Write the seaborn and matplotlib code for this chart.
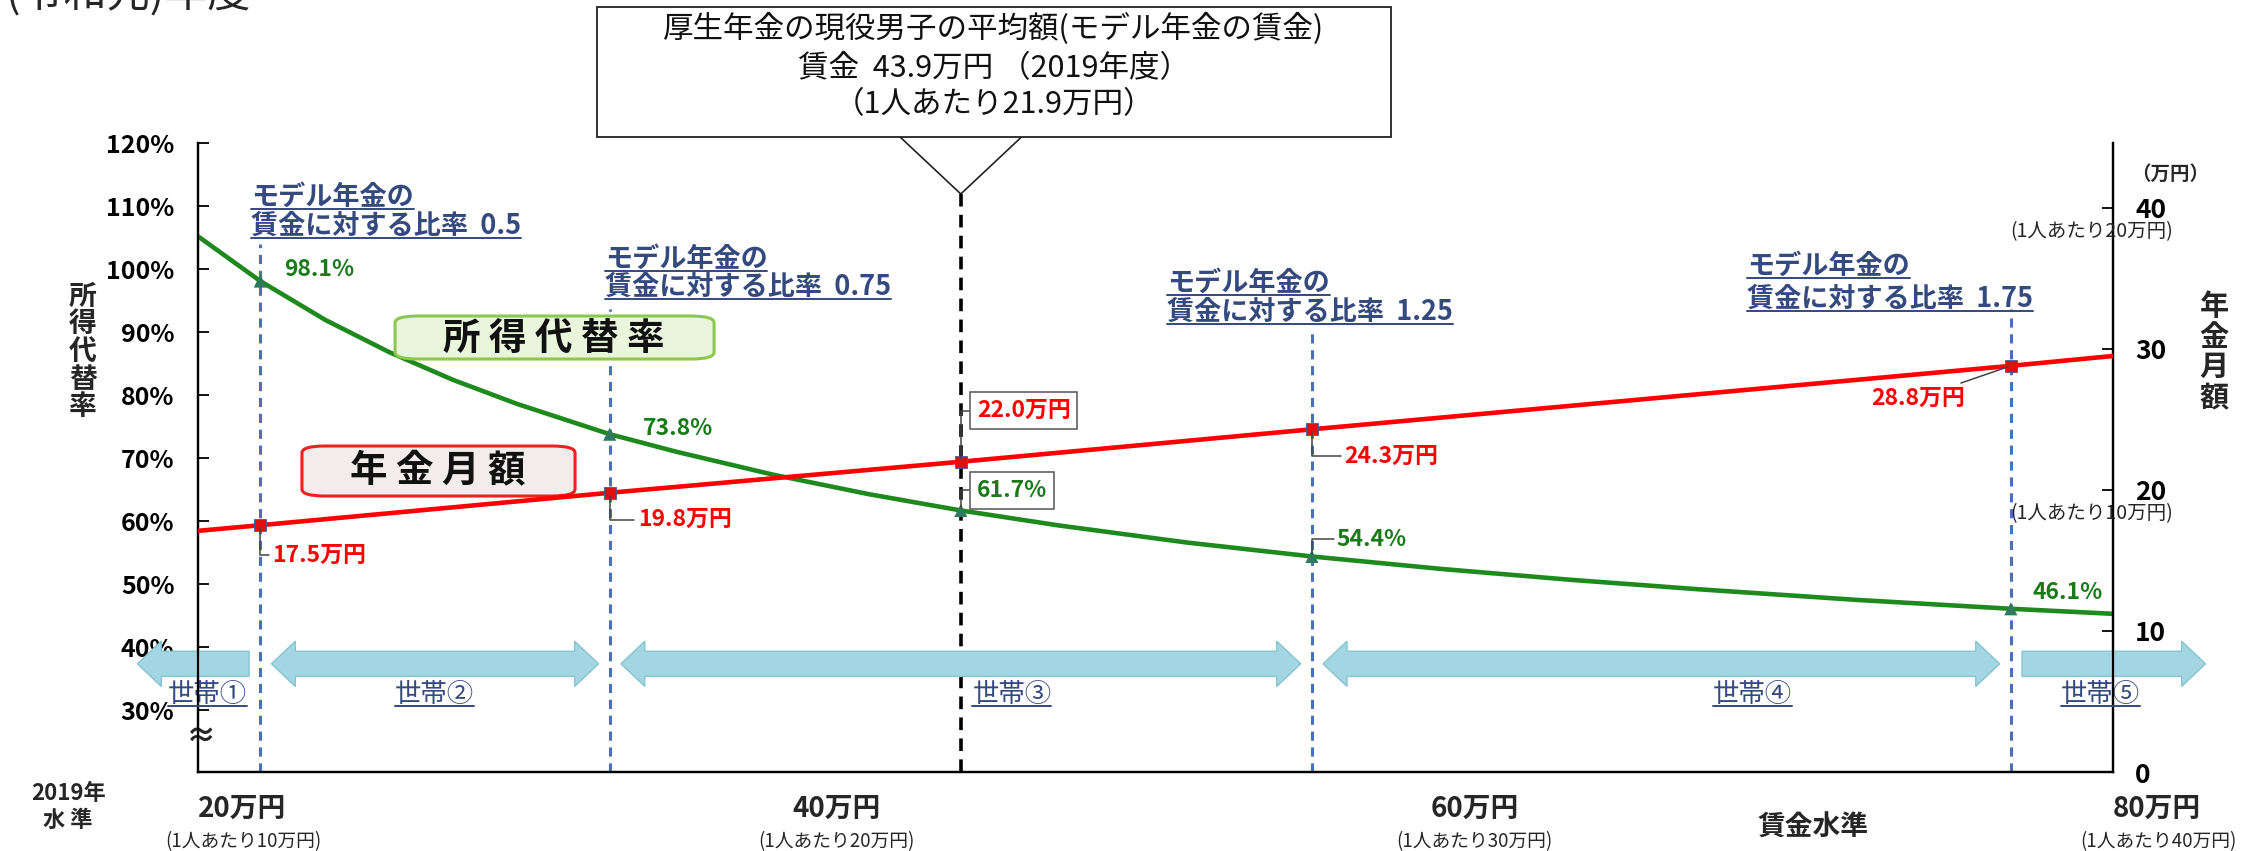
import numpy as np
import pandas as pd
import matplotlib
matplotlib.use("Agg")
import matplotlib.pyplot as plt
import matplotlib.transforms as mtransforms
from matplotlib.patches import Polygon, Rectangle, FancyBboxPatch
from matplotlib.lines import Line2D
import seaborn as sns

# ---------------- data ----------------
curve_wage = [20, 21.95, 24, 26, 28, 30, 32.9, 35, 38, 41, 43.9, 47, 51, 54.9, 59, 63, 67, 72, 76.8, 80]
curve_rate = [105.2, 98.1, 91.9, 86.8, 82.4, 78.6, 73.8, 71.0, 67.4, 64.3, 61.7, 59.3, 56.6, 54.4,
              52.4, 50.7, 49.2, 47.5, 46.1, 45.3]
pension_wage = [20, 21.95, 32.9, 43.9, 54.9, 76.8, 80]
pension_amount = [17.1, 17.5, 19.8, 22.0, 24.3, 28.8, 29.5]

model_ratio = ["0.5", "0.75", "1.0", "1.25", "1.75"]
point_wage = [21.95, 32.9, 43.9, 54.9, 76.8]
point_rate = [98.1, 73.8, 61.7, 54.4, 46.1]
point_pension = [17.5, 19.8, 22.0, 24.3, 28.8]

x_tick_vals = [20, 40, 60, 80]
x_tick_main = ["20万円", "40万円", "60万円", "80万円"]
x_tick_sub = ["(1人あたり10万円)", "(1人あたり20万円)", "(1人あたり30万円)", "(1人あたり40万円)"]
left_ticks = [30, 40, 50, 60, 70, 80, 90, 100, 110, 120]
right_ticks = [0, 10, 20, 30, 40]
households = ["世帯①", "世帯②", "世帯③", "世帯④", "世帯⑤"]
household_label_wage = [20.3, 27.4, 45.5, 68.7, 79.6]
household_outer = [18.1, 82.9]

box_lines = ["厚生年金の現役男子の平均額(モデル年金の賃金)",
             "賃金  43.9万円 （2019年度）",
             "（1人あたり21.9万円）"]

# ---------------- style ----------------
sns.set_style("white")
plt.rcParams['font.family'] = ['Noto Sans CJK JP', 'DejaVu Sans']
plt.rcParams['axes.unicode_minus'] = False

RED = '#ff0000'
GREEN = '#1e8a1e'
BLUE_DASH = '#4a70b8'
NAVY = '#34497e'
ARROW = '#a3d6e2'

W_PX, H_PX = 2254, 851
fig = plt.figure(figsize=(W_PX / 100, H_PX / 100), dpi=100)
ax = fig.add_axes([0.08784, 0.09283, 0.8496, 0.7391])
ax2 = ax.twinx()

ax.set_xlim(20, 80)
ax.set_ylim(20.2, 120)
ax2.set_ylim(0, 44.6)

# lines
rate_df = pd.DataFrame({'wage': curve_wage, 'rate': curve_rate})
pen_df = pd.DataFrame({'wage': pension_wage, 'amount': pension_amount})
sns.lineplot(data=rate_df, x='wage', y='rate', ax=ax, color=GREEN, lw=3.3, zorder=6)
sns.lineplot(data=pen_df, x='wage', y='amount', ax=ax2, color=RED, lw=3.3, zorder=6)

pts_df = pd.DataFrame({'wage': point_wage, 'rate': point_rate, 'pension': point_pension})
sns.scatterplot(data=pts_df, x='wage', y='rate', ax=ax, marker='^', s=90, color='#2f7a5c',
                edgecolor='none', zorder=7)
sns.scatterplot(data=pts_df, x='wage', y='pension', ax=ax2, marker='s', s=70, color='#e01010',
                edgecolor='#3a5fa0', linewidth=0.6, zorder=7)

# vertical dashed lines
dash_top = [0.839, 0.736, 0.919, 0.698, 0.736]
for i, w in enumerate(point_wage):
    if model_ratio[i] == "1.0":
        ax.axvline(w, 0, dash_top[i], color='black', lw=2.6, ls=(0, (3.5, 2.3)), zorder=4)
    else:
        ax.axvline(w, 0, dash_top[i], color=BLUE_DASH, lw=2.2, ls=(0, (3, 2.2)), zorder=4)

# axes cosmetics
for a in (ax, ax2):
    a.spines['top'].set_visible(False)
    for s in ('left', 'right', 'bottom'):
        a.spines[s].set_color('black')
        a.spines[s].set_linewidth(1.6)
ax.set_xlabel('')
ax.set_ylabel('')
ax2.set_ylabel('')
ax.set_xticks([40, 60])
ax.set_xticklabels([])
ax.tick_params(axis='x', direction='in', length=8, width=1.3, colors='black')
ax.set_yticks(left_ticks)
ax.set_yticklabels([f"{v}%" for v in left_ticks], fontsize=18, fontweight='bold')
ax.tick_params(axis='y', direction='in', length=8, width=1.3, pad=17, colors='black')
ax2.set_yticks(right_ticks)
ax2.set_yticklabels([str(v) for v in right_ticks], fontsize=19, fontweight='bold')
ax2.tick_params(axis='y', direction='in', length=8, width=1.3, pad=16, colors='black')
ax.grid(False)
ax2.grid(False)

# household arrows (x in data, y in axes fraction)
blend = mtransforms.blended_transform_factory(ax.transData, ax.transAxes)
bounds = [household_outer[0]] + [point_wage[0], point_wage[1], point_wage[3], point_wage[4]] + [household_outer[1]]
gap = 0.35
yc, hs, hh, hl = 0.172, 0.020, 0.036, 0.75
for k in range(5):
    x0 = bounds[k] + (0 if k == 0 else gap)
    x1 = bounds[k + 1] - (0 if k == 4 else gap)
    left_head = k != 4
    right_head = k != 0
    pts = []
    if left_head:
        pts += [(x0, yc), (x0 + hl, yc + hh), (x0 + hl, yc + hs)]
    else:
        pts += [(x0, yc - hs), (x0, yc + hs)]
    if right_head:
        pts += [(x1 - hl, yc + hs), (x1 - hl, yc + hh), (x1, yc), (x1 - hl, yc - hh), (x1 - hl, yc - hs)]
    else:
        pts += [(x1, yc + hs), (x1, yc - hs)]
    if left_head:
        pts += [(x0 + hl, yc - hs), (x0 + hl, yc - hh)]
    poly = Polygon(pts, closed=True, transform=blend, facecolor=ARROW, edgecolor='#86c4d2',
                   lw=1.0, clip_on=False, zorder=9)
    ax.add_patch(poly)

underline_targets = []

for name, w in zip(households, household_label_wage):
    t = ax.text(w, 0.124, name, transform=blend, ha='center', va='center', fontsize=19,
                color=NAVY, zorder=10, clip_on=False)
    underline_targets.append((t, NAVY))

# ratio labels (two underlined lines each)
ratio_dx = [-9, -5, None, -145, -264]
ratio_y1 = [0.914, 0.816, None, 0.777, 0.804]
ratio_y2 = [0.868, 0.771, None, 0.731, 0.752]
for i, w in enumerate(point_wage):
    if ratio_dx[i] is None:
        continue
    for yy, s in ((ratio_y1[i], "モデル年金の"), (ratio_y2[i], f"賃金に対する比率  {model_ratio[i]}")):
        t = ax.annotate(s, xy=(w, yy), xycoords=blend, xytext=(ratio_dx[i], 0),
                        textcoords='offset pixels', ha='left', va='center', fontsize=19.5,
                        color=NAVY, fontweight='bold', annotation_clip=False, zorder=10)
        underline_targets.append((t, NAVY))

# value labels
leader = dict(arrowstyle='-', color='#444444', lw=1.1, shrinkA=0, shrinkB=2,
              connectionstyle='angle,angleA=0,angleB=90,rad=0')
boxprops = dict(boxstyle='square,pad=0.3', fc='white', ec='#555555', lw=1.1)
green_off = [(24, 12, False, False), (33, 6, False, False), (16, 20, True, True),
             (25, 17, True, False), (22, 16, False, False)]
for (dx, dy, lead, boxed), w, v in zip(green_off, point_wage, point_rate):
    ax.annotate(f"{v:.1f}%", xy=(w, v), xytext=(dx, dy), textcoords='offset pixels',
                ha='left', va='center', fontsize=16.5, fontweight='bold', color='#1a7a1a',
                arrowprops=leader if lead else None, bbox=boxprops if boxed else None, zorder=11)
red_off = [(12, -30, 'left', True, False), (28, -27, 'left', True, False), (16, 51, 'left', True, True),
           (32, -27, 'left', True, False), (-46, -32, 'right', True, False)]
for (dx, dy, ha, lead, boxed), w, v in zip(red_off, point_wage, point_pension):
    props = dict(leader)
    if ha == 'right':
        props['connectionstyle'] = 'arc3'
    ax2.annotate(f"{v:.1f}万円", xy=(w, v), xytext=(dx, dy), textcoords='offset pixels',
                 ha=ha, va='center', fontsize=16.5, fontweight='bold', color=RED,
                 arrowprops=props if lead else None, bbox=boxprops if boxed else None, zorder=11)

# big series labels (box drawn separately so its proportions follow the reference)
ax.add_patch(FancyBboxPatch((0.1029, 0.6566), 0.1666, 0.0684, transform=ax.transAxes,
                            boxstyle='round,pad=0,rounding_size=0.012', fc='#eaf6dc', ec='#8cc850',
                            lw=2.2, zorder=8, mutation_aspect=0.9))
ax.text(0.186, 0.690, "所 得 代 替 率", transform=ax.transAxes, ha='center', va='center',
        fontsize=27, fontweight='bold', color='#111111', zorder=8.5)
ax.add_patch(FancyBboxPatch((0.0543, 0.4388), 0.1426, 0.0795, transform=ax.transAxes,
                            boxstyle='round,pad=0,rounding_size=0.012', fc='#f3ecec', ec='#ee2020',
                            lw=2.2, zorder=8, mutation_aspect=0.9))
ax.text(0.125, 0.479, "年 金 月 額", transform=ax.transAxes, ha='center', va='center',
        fontsize=27, fontweight='bold', color='#111111', zorder=8.5)

# top callout box
fig.add_artist(Rectangle((0.2649, 0.839), 0.3523, 0.1528, transform=fig.transFigure,
                         fc='white', ec='#222222', lw=1.3))
for yy, s in zip([0.966, 0.920, 0.877], box_lines):
    fig.text(0.441, yy, s, ha='center', va='center', fontsize=22, color='#111111')
ax.add_line(Line2D([point_wage[2] - 1.9, point_wage[2], point_wage[2] + 1.9], [1.0095, 0.919, 1.0095],
                   transform=blend, color='#222222', lw=1.2, clip_on=False))

# x-axis labels
x_main_ha = ['left', 'center', 'center', 'left']
x_sub_dx = [45, 0, 0, 45]
for v, m, s, ha, sdx in zip(x_tick_vals, x_tick_main, x_tick_sub, x_main_ha, x_sub_dx):
    ax.annotate(m, xy=(v, 0), xycoords=blend, xytext=(0, -37), textcoords='offset pixels',
                ha=ha, va='center', fontsize=20, fontweight='bold', annotation_clip=False)
    ax.annotate(s, xy=(v, 0), xycoords=blend, xytext=(sdx, -70), textcoords='offset pixels',
                ha='center', va='center', fontsize=13.5, annotation_clip=False)

fig.text(0.0302, 0.0517, "2019年\n水 準", ha='center', va='center', fontsize=16,
         fontweight='bold', linespacing=1.25)
fig.text(0.8044, 0.027, "賃金水準", ha='center', va='center', fontsize=20, fontweight='bold')

# axis titles (stacked vertical)
fig.text(0.0368, 0.5863, "\n".join("所得代替率"), ha='center', va='center', fontsize=20,
         fontweight='bold', linespacing=0.98)
fig.text(0.9823, 0.5863, "\n".join("年金月額"), ha='center', va='center', fontsize=21,
         fontweight='bold', linespacing=1.02)

# right-axis notes
ax2.annotate("（万円）", xy=(1, 40), xycoords=('axes fraction', 'data'), xytext=(57, 34),
             textcoords='offset pixels', ha='center', va='center', fontsize=14, fontweight='bold',
             annotation_clip=False)
for v, s in ((40, "(1人あたり20万円)"), (20, "(1人あたり10万円)")):
    ax2.annotate(s, xy=(1, v), xycoords=('axes fraction', 'data'), xytext=(-21, -24),
                 textcoords='offset pixels', ha='center', va='center', fontsize=14,
                 annotation_clip=False, zorder=12)

# axis break mark
ax.annotate("≈", xy=(0, 0), xycoords='axes fraction', xytext=(3, 35), textcoords='offset pixels',
            ha='center', va='center', fontsize=22, fontweight='bold', annotation_clip=False)

# clipped title fragment at the very top-left (cut off in the reference as well)
fig.text(250 / W_PX, 1 - 17 / H_PX, "(令和元)年度", ha='right', va='bottom', fontsize=31)

# underlines
fig.canvas.draw()
renderer = fig.canvas.get_renderer()
for t, col in underline_targets:
    bb = t.get_window_extent(renderer)
    y = (bb.y0 + 2) / H_PX
    fig.add_artist(Line2D([bb.x0 / W_PX, bb.x1 / W_PX], [y, y], transform=fig.transFigure,
                          color=col, lw=1.4, zorder=12))

fig.savefig("out.png", dpi=100)
